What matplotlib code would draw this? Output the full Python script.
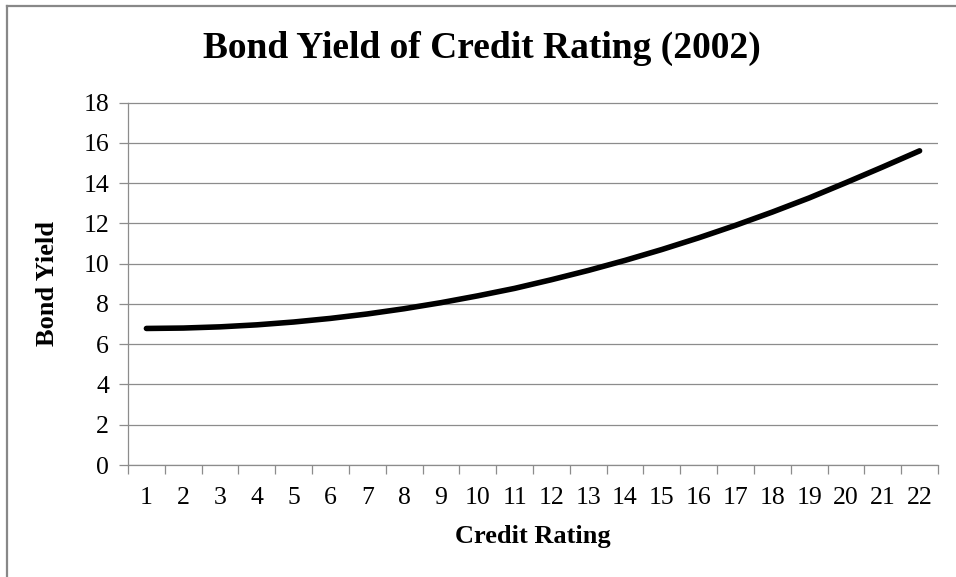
import numpy as np
import matplotlib
matplotlib.use("Agg")
import matplotlib.pyplot as plt
from matplotlib.lines import Line2D

# ---- data ----
ratings = list(range(1, 23))
bond_yield = [6.78, 6.80, 6.86, 6.96, 7.10, 7.28, 7.50, 7.76, 8.06, 8.40, 8.77,
              9.20, 9.66, 10.16, 10.70, 11.28, 11.90, 12.56, 13.26, 14.02, 14.80, 15.60]
y_ticks = list(range(0, 19, 2))

plt.rcParams["font.family"] = ["Liberation Serif", "DejaVu Serif"]
GRID = "#8c8c8c"
W, H = 956, 577

fig = plt.figure(figsize=(W/100, H/100), dpi=100)
ax = fig.add_axes([128/W, (H-465)/H, (938-128)/W, (465-102.5)/H])

ax.plot(ratings, bond_yield, color="black", lw=4, solid_capstyle="round",
        solid_joinstyle="round", zorder=3)

ax.set_xlim(0.5, len(ratings) + 0.5)
ax.set_ylim(0, 18)
ax.set_yticks(y_ticks)
ax.set_yticklabels([str(v) for v in y_ticks], fontsize=18.5)
ax.yaxis.grid(True, color=GRID, lw=0.9)
ax.set_axisbelow(True)

# category axis: ticks between categories, labels under the centres
ax.set_xticks(np.arange(0.5, len(ratings) + 1, 1))
ax.set_xticklabels([])
ax.set_xticks(ratings, minor=True)
ax.set_xticklabels([str(r) for r in ratings], minor=True, fontsize=18.5)
ax.tick_params(axis="x", which="major", length=6.5, color=GRID, width=0.9)
ax.tick_params(axis="x", which="minor", length=0, pad=16)
ax.tick_params(axis="y", length=6.5, color=GRID, width=0.9, pad=7)

for s in ["top", "right"]:
    ax.spines[s].set_visible(False)
for s in ["left", "bottom"]:
    ax.spines[s].set_color(GRID)
    ax.spines[s].set_linewidth(0.9)

ax.set_xlabel("Credit Rating", fontsize=19, fontweight="bold", va="center")
ax.xaxis.set_label_coords(0.5, (465 - 536) / 362.5)
ax.set_ylabel("Bond Yield", fontsize=19, fontweight="bold", va="center")
ax.yaxis.set_label_coords((48 - 128) / 810, 0.5)

fig.text(482/W, 1 - 48/H, "Bond Yield of Credit Rating (2002)", fontsize=27,
         fontweight="bold", ha="center", va="center")

# outer chart border (top and left edges visible in the crop)
fig.add_artist(Line2D([7/W, 7/W], [0, 1 - 6/H], transform=fig.transFigure,
                      color="#888888", lw=1.6))
fig.add_artist(Line2D([7/W, 1], [1 - 6/H, 1 - 6/H], transform=fig.transFigure,
                      color="#888888", lw=1.6))

fig.savefig("out.png", dpi=100)
